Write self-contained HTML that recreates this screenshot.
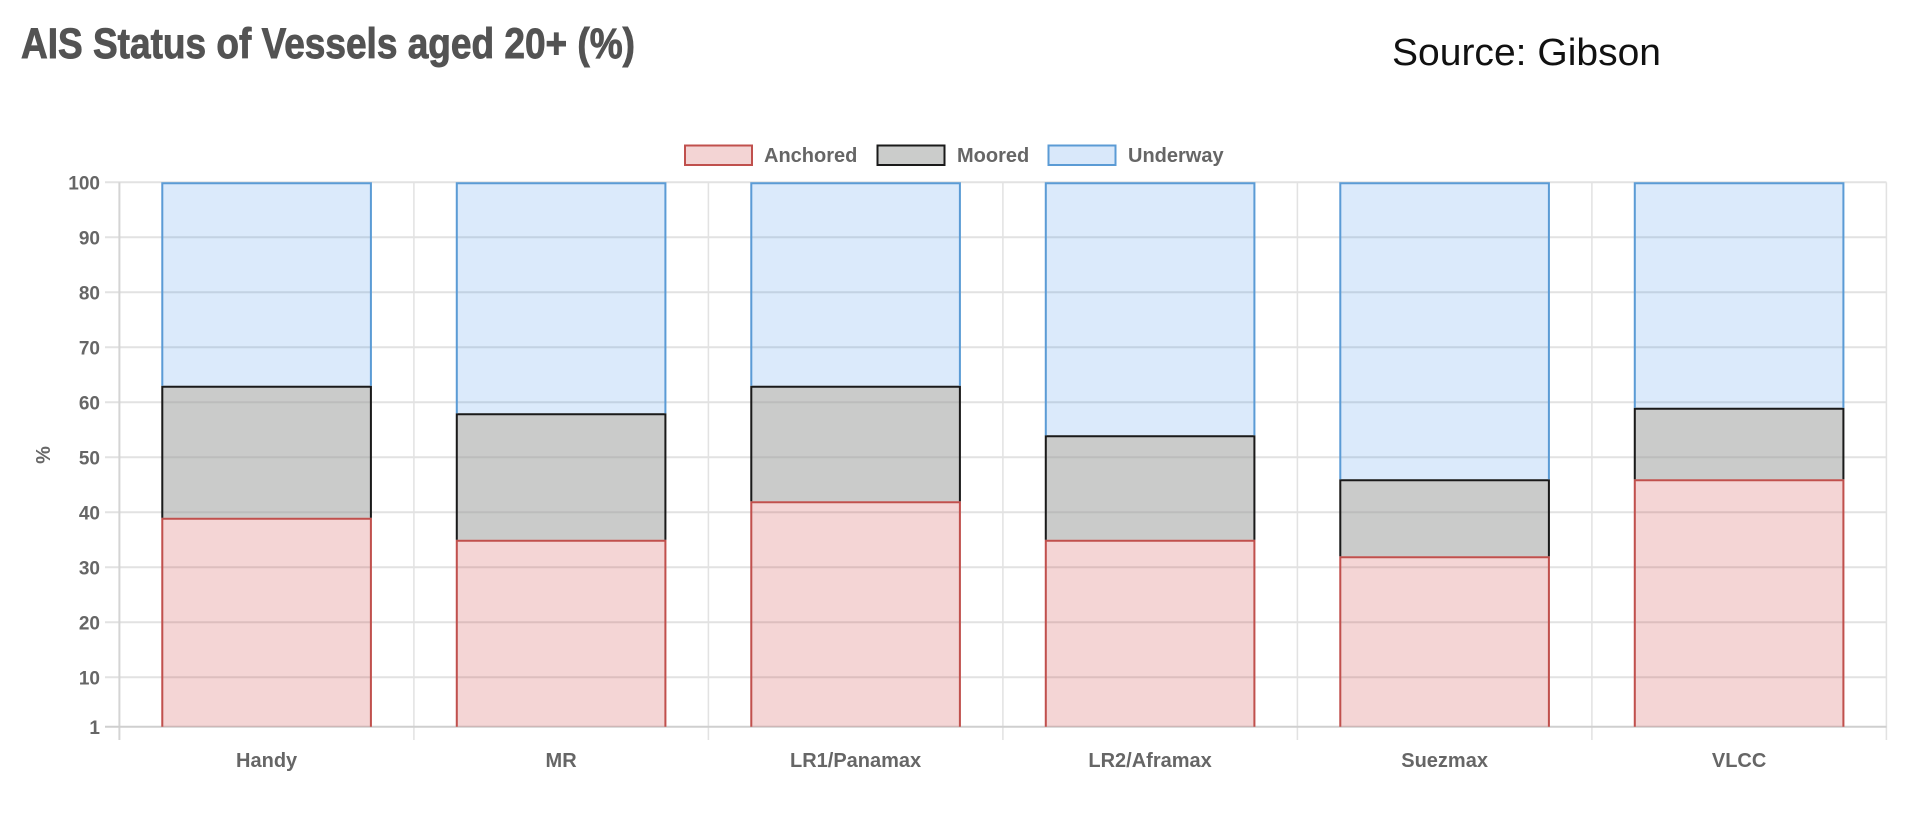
<!DOCTYPE html>
<html>
<head>
<meta charset="utf-8">
<style>
html,body{margin:0;padding:0;background:#fff;}
body{width:1920px;height:819px;overflow:hidden;}
svg{display:block;}
text{font-family:"Liberation Sans",Arial,sans-serif;}
</style>
</head>
<body>
<svg width="1920" height="819" viewBox="0 0 1920 819" xmlns="http://www.w3.org/2000/svg">
<rect width="1920" height="819" fill="#fff"/>

<!-- Title -->
<text x="21" y="58" font-size="43" font-weight="bold" fill="#535353" stroke="#535353" stroke-width="0.9" textLength="614" lengthAdjust="spacingAndGlyphs">AIS Status of Vessels aged 20+ (%)</text>
<!-- Source -->
<text x="1392" y="65" font-size="38" fill="#111" textLength="269" lengthAdjust="spacingAndGlyphs">Source: Gibson</text>

<!-- Legend -->
<rect x="685" y="145.5" width="67" height="19.5" fill="#f3d4d4" stroke="#c0504d" stroke-width="2"/>
<text x="764" y="162" font-size="20" font-weight="bold" fill="#666">Anchored</text>
<rect x="877.5" y="145.5" width="67" height="19.5" fill="#cbcccb" stroke="#1a1a1a" stroke-width="2"/>
<text x="957" y="162" font-size="20" font-weight="bold" fill="#666">Moored</text>
<rect x="1048.5" y="145.5" width="67" height="19.5" fill="#d9e8fa" stroke="#5b9bd5" stroke-width="2"/>
<text x="1128" y="162" font-size="20" font-weight="bold" fill="#666">Underway</text>

<!-- Grid: horizontal -->
<g stroke="#e2e2e2" stroke-width="2">
  <line x1="105" x2="1886.5" y1="182.3" y2="182.3"/>
  <line x1="105" x2="1886.5" y1="237.3" y2="237.3"/>
  <line x1="105" x2="1886.5" y1="292.3" y2="292.3"/>
  <line x1="105" x2="1886.5" y1="347.3" y2="347.3"/>
  <line x1="105" x2="1886.5" y1="402.3" y2="402.3"/>
  <line x1="105" x2="1886.5" y1="457.3" y2="457.3"/>
  <line x1="105" x2="1886.5" y1="512.3" y2="512.3"/>
  <line x1="105" x2="1886.5" y1="567.3" y2="567.3"/>
  <line x1="105" x2="1886.5" y1="622.3" y2="622.3"/>
  <line x1="105" x2="1886.5" y1="677.3" y2="677.3"/>
</g>
<!-- Grid: vertical -->
<g stroke="#e2e2e2" stroke-width="1.5">
  <line x1="413.9" x2="413.9" y1="182.3" y2="740"/>
  <line x1="708.4" x2="708.4" y1="182.3" y2="740"/>
  <line x1="1002.9" x2="1002.9" y1="182.3" y2="740"/>
  <line x1="1297.4" x2="1297.4" y1="182.3" y2="740"/>
  <line x1="1591.9" x2="1591.9" y1="182.3" y2="740"/>
  <line x1="1886.4" x2="1886.4" y1="182.3" y2="740"/>
</g>
<!-- Axes -->
<line x1="119.4" x2="119.4" y1="182.3" y2="740" stroke="#d4d4d4" stroke-width="2"/>
<line x1="105" x2="1886.5" y1="726.8" y2="726.8" stroke="#cfcfcf" stroke-width="2"/>

<!-- Y tick labels -->
<g font-size="19" font-weight="bold" fill="#666" text-anchor="end">
  <text x="100" y="189.3">100</text>
  <text x="100" y="244.3">90</text>
  <text x="100" y="299.3">80</text>
  <text x="100" y="354.3">70</text>
  <text x="100" y="409.3">60</text>
  <text x="100" y="464.3">50</text>
  <text x="100" y="519.3">40</text>
  <text x="100" y="574.3">30</text>
  <text x="100" y="629.3">20</text>
  <text x="100" y="684.3">10</text>
  <text x="100" y="733.8">1</text>
</g>
<!-- Y axis title -->
<text transform="translate(50,455) rotate(-90)" font-size="20" font-weight="bold" fill="#666" text-anchor="middle">%</text>

<!-- X labels -->
<g font-size="20" font-weight="bold" fill="#666" text-anchor="middle">
  <text x="266.6" y="767">Handy</text>
  <text x="561.1" y="767">MR</text>
  <text x="855.6" y="767">LR1/Panamax</text>
  <text x="1150.1" y="767">LR2/Aframax</text>
  <text x="1444.6" y="767">Suezmax</text>
  <text x="1739.1" y="767">VLCC</text>
</g>

<!-- Bars: y(v)=732.3-5.5v -->
<!-- Handy: 39, 63 -->
<g>
  <rect x="161.3" y="517.8" width="210.6" height="209" fill="rgba(204,65,65,0.22)"/>
  <rect x="161.3" y="385.8" width="210.6" height="132" fill="rgba(150,152,150,0.5)"/>
  <rect x="161.3" y="182.3" width="210.6" height="203.5" fill="rgba(54,140,235,0.18)"/>
  <path d="M162.3 726.8 V518.8 H370.9 V726.8" fill="none" stroke="#c0504d" stroke-width="2"/>
  <path d="M162.3 517.8 V386.8 H370.9 V517.8" fill="none" stroke="#1a1a1a" stroke-width="2"/>
  <path d="M162.3 385.8 V183.3 H370.9 V385.8" fill="none" stroke="#5b9bd5" stroke-width="2"/>
</g>
<!-- MR: 35, 58 -->
<g>
  <rect x="455.8" y="539.8" width="210.6" height="187" fill="rgba(204,65,65,0.22)"/>
  <rect x="455.8" y="413.3" width="210.6" height="126.5" fill="rgba(150,152,150,0.5)"/>
  <rect x="455.8" y="182.3" width="210.6" height="231" fill="rgba(54,140,235,0.18)"/>
  <path d="M456.8 726.8 V540.8 H665.4 V726.8" fill="none" stroke="#c0504d" stroke-width="2"/>
  <path d="M456.8 539.8 V414.3 H665.4 V539.8" fill="none" stroke="#1a1a1a" stroke-width="2"/>
  <path d="M456.8 413.3 V183.3 H665.4 V413.3" fill="none" stroke="#5b9bd5" stroke-width="2"/>
</g>
<!-- LR1: 42, 63 -->
<g>
  <rect x="750.3" y="501.3" width="210.6" height="225.5" fill="rgba(204,65,65,0.22)"/>
  <rect x="750.3" y="385.8" width="210.6" height="115.5" fill="rgba(150,152,150,0.5)"/>
  <rect x="750.3" y="182.3" width="210.6" height="203.5" fill="rgba(54,140,235,0.18)"/>
  <path d="M751.3 726.8 V502.3 H959.9 V726.8" fill="none" stroke="#c0504d" stroke-width="2"/>
  <path d="M751.3 501.3 V386.8 H959.9 V501.3" fill="none" stroke="#1a1a1a" stroke-width="2"/>
  <path d="M751.3 385.8 V183.3 H959.9 V385.8" fill="none" stroke="#5b9bd5" stroke-width="2"/>
</g>
<!-- LR2: 35, 54 -->
<g>
  <rect x="1044.8" y="539.8" width="210.6" height="187" fill="rgba(204,65,65,0.22)"/>
  <rect x="1044.8" y="435.3" width="210.6" height="104.5" fill="rgba(150,152,150,0.5)"/>
  <rect x="1044.8" y="182.3" width="210.6" height="253" fill="rgba(54,140,235,0.18)"/>
  <path d="M1045.8 726.8 V540.8 H1254.4 V726.8" fill="none" stroke="#c0504d" stroke-width="2"/>
  <path d="M1045.8 539.8 V436.3 H1254.4 V539.8" fill="none" stroke="#1a1a1a" stroke-width="2"/>
  <path d="M1045.8 435.3 V183.3 H1254.4 V435.3" fill="none" stroke="#5b9bd5" stroke-width="2"/>
</g>
<!-- Suezmax: 32, 46 -->
<g>
  <rect x="1339.3" y="556.3" width="210.6" height="170.5" fill="rgba(204,65,65,0.22)"/>
  <rect x="1339.3" y="479.3" width="210.6" height="77" fill="rgba(150,152,150,0.5)"/>
  <rect x="1339.3" y="182.3" width="210.6" height="297" fill="rgba(54,140,235,0.18)"/>
  <path d="M1340.3 726.8 V557.3 H1548.9 V726.8" fill="none" stroke="#c0504d" stroke-width="2"/>
  <path d="M1340.3 556.3 V480.3 H1548.9 V556.3" fill="none" stroke="#1a1a1a" stroke-width="2"/>
  <path d="M1340.3 479.3 V183.3 H1548.9 V479.3" fill="none" stroke="#5b9bd5" stroke-width="2"/>
</g>
<!-- VLCC: 46, 59 -->
<g>
  <rect x="1633.8" y="479.3" width="210.6" height="247.5" fill="rgba(204,65,65,0.22)"/>
  <rect x="1633.8" y="407.8" width="210.6" height="71.5" fill="rgba(150,152,150,0.5)"/>
  <rect x="1633.8" y="182.3" width="210.6" height="225.5" fill="rgba(54,140,235,0.18)"/>
  <path d="M1634.8 726.8 V480.3 H1843.4 V726.8" fill="none" stroke="#c0504d" stroke-width="2"/>
  <path d="M1634.8 479.3 V408.8 H1843.4 V479.3" fill="none" stroke="#1a1a1a" stroke-width="2"/>
  <path d="M1634.8 407.8 V183.3 H1843.4 V407.8" fill="none" stroke="#5b9bd5" stroke-width="2"/>
</g>
</svg>
</body>
</html>
